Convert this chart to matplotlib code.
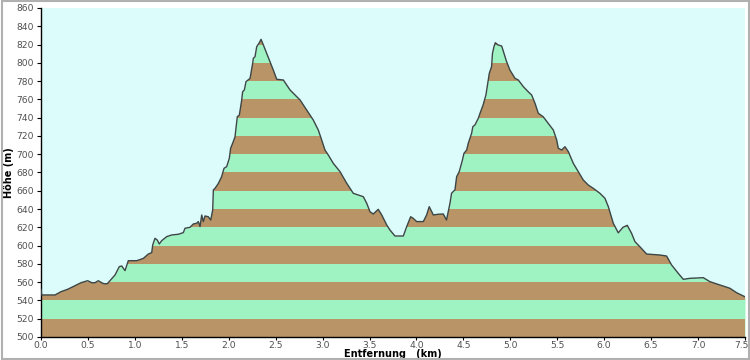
import matplotlib
matplotlib.use("Agg")
import matplotlib.pyplot as plt
import matplotlib.transforms as mtransforms
import numpy as np

# elevation profile (km, m)
dist_km = [0.0, 0.007, 0.149, 0.213, 0.284, 0.355, 0.426, 0.497, 0.54, 0.575, 0.61, 0.646,
           0.67, 0.706, 0.742, 0.788, 0.834, 0.86, 0.895, 0.93, 1.02, 1.09, 1.143, 1.179,
           1.19, 1.214, 1.239, 1.26, 1.286, 1.339, 1.39, 1.463, 1.516, 1.534, 1.587, 1.623,
           1.658, 1.676, 1.694, 1.712, 1.729, 1.747, 1.782, 1.808, 1.829, 1.836, 1.854,
           1.889, 1.924, 1.95, 1.978, 2.006, 2.02, 2.048, 2.067, 2.091, 2.113, 2.138, 2.148,
           2.166, 2.184, 2.227, 2.255, 2.262, 2.28, 2.298, 2.322, 2.344, 2.369, 2.404, 2.44,
           2.475, 2.511, 2.582, 2.653, 2.76, 2.83, 2.90, 2.954, 2.99, 3.025, 3.06, 3.114,
           3.185, 3.257, 3.327, 3.434, 3.47, 3.505, 3.54, 3.593, 3.63, 3.683, 3.718, 3.771,
           3.86, 3.896, 3.938, 3.966, 4.002, 4.073, 4.108, 4.136, 4.18, 4.23, 4.286, 4.32,
           4.357, 4.374, 4.41, 4.428, 4.456, 4.47, 4.49, 4.506, 4.535, 4.552, 4.57, 4.588,
           4.6, 4.623, 4.659, 4.677, 4.71, 4.74, 4.765, 4.776, 4.80, 4.81, 4.826, 4.84, 4.87,
           4.908, 4.932, 4.96, 4.996, 5.05, 5.085, 5.138, 5.19, 5.227, 5.263, 5.298, 5.35,
           5.404, 5.458, 5.494, 5.511, 5.547, 5.582, 5.618, 5.671, 5.724, 5.777, 5.83, 5.883,
           5.955, 6.008, 6.044, 6.097, 6.15, 6.2, 6.246, 6.292, 6.328, 6.38, 6.452, 6.594,
           6.665, 6.718, 6.789, 6.843, 6.914, 7.056, 7.127, 7.234, 7.34, 7.41, 7.5]
elev_m = [552, 546, 546, 549.6, 552.2, 555.8, 559.4, 561.6, 559.4, 559.4, 561.6, 559.4,
          558.3, 558.3, 562.4, 567.8, 577, 577.7, 572.6, 583.5, 583.5, 586, 590.8, 592.3,
          600.7, 608, 606, 601.8, 605.4, 609.8, 611.6, 612.4, 614.2, 619, 620, 623.7,
          624.4, 626.3, 620.8, 633.5, 626.3, 632.4, 631.6, 628, 639, 660.9, 662.7,
          668, 675.4, 684.6, 686.4, 695.5, 706.5, 713.7, 719.2, 741, 742.9, 759.3, 768.4,
          770.3, 779.4, 783, 799.5, 805, 806.7, 817.7, 821.3, 825.7, 819.5, 810.4, 801.3,
          792, 782, 781.2, 770.3, 759.3, 748.4, 737.5, 726.5, 715.6, 704.6, 699.2, 690,
          681, 668.2, 657.2, 653.5, 646.3, 637, 634.6, 639.7, 633.5, 622.6, 617, 610.5,
          610.5, 620.8, 631.6, 629.8, 626.3, 626.3, 633.5, 642.6, 633.5, 634.3, 634.6, 628,
          646.3, 657.3, 661, 675.4, 681, 686.4, 693.7, 701, 704.6, 712, 717.4, 723,
          730, 732, 739.3, 744.8, 753.9, 764.8, 781.2, 788.5, 795.8, 810.4, 817.7, 822, 819.5,
          818.4, 810.4, 801.3, 792, 783, 781.2, 774, 768.4, 764.8, 755.7, 744.8, 741,
          733.8, 726.5, 715.6, 706.5, 704.6, 708.2, 702.8, 690, 681, 671.8, 666.3, 662.7,
          657.2, 651.8, 642.6, 624.4, 614, 620, 622.2, 613.4, 604.3, 598.8, 590.8, 589.7,
          588.6, 578.8, 569.7, 563.1, 564.2, 564.9, 560.5, 556.9, 553.3, 548.5, 544]

x_ticks = [0.0, 0.5, 1.0, 1.5, 2.0, 2.5, 3.0, 3.5, 4.0, 4.5, 5.0, 5.5, 6.0, 6.5, 7.0, 7.5]
y_ticks = list(range(500, 861, 20))

bg = "#dcfcfc"
green = "#9ff2c2"
brown = "#b99466"

fig = plt.figure(figsize=(7.5, 3.6), dpi=100)
fig.patch.set_facecolor("white")
ax = fig.add_axes([0.0547, 0.0639, 0.9386, 0.9139])
ax.set_facecolor(bg)

# base fill, then brown bands clipped to the profile
poly = ax.fill_between(dist_km, elev_m, 500, color=green, lw=0, zorder=1)
clip = poly.get_paths()[0]
for lo in range(500, 860, 40):
    band = ax.axhspan(lo, lo + 20, color=brown, lw=0, zorder=2)
    band.set_clip_path(clip, ax.transData)
ax.plot(dist_km, elev_m, color="#3c4646", lw=1.0, zorder=3)

ax.set_xlim(0, 7.5)
ax.set_ylim(500, 860)
ax.set_xticks(x_ticks)
ax.set_xticklabels(["%.1f" % t for t in x_ticks])
ax.set_yticks(y_ticks)
ax.tick_params(labelsize=6.6, colors="#505050", length=3, width=0.8, pad=2)
ax.tick_params(axis="x", length=2, pad=1)
ax.tick_params(axis="both", color="black")
for s in ("top", "right"):
    ax.spines[s].set_visible(False)
for s in ("left", "bottom"):
    ax.spines[s].set_linewidth(1.0)

# last x label sits against the right edge, nudge it in a little
last = ax.get_xticklabels()[-1]
last.set_transform(last.get_transform() + mtransforms.ScaledTranslation(-4 / 100, 0, fig.dpi_scale_trans))

ax.set_ylabel("Höhe (m)", fontsize=7, fontweight="bold", labelpad=2)
ax.set_xlabel("Entfernung   (km)", fontsize=7, fontweight="bold", labelpad=-0.5)

# grey frame around the picture
fig.add_artist(plt.Rectangle((0.002, 0.002), 0.996, 0.996, transform=fig.transFigure,
                             fill=False, edgecolor="#b0b0b0", lw=1.5))

fig.savefig("out.png", dpi=100)
